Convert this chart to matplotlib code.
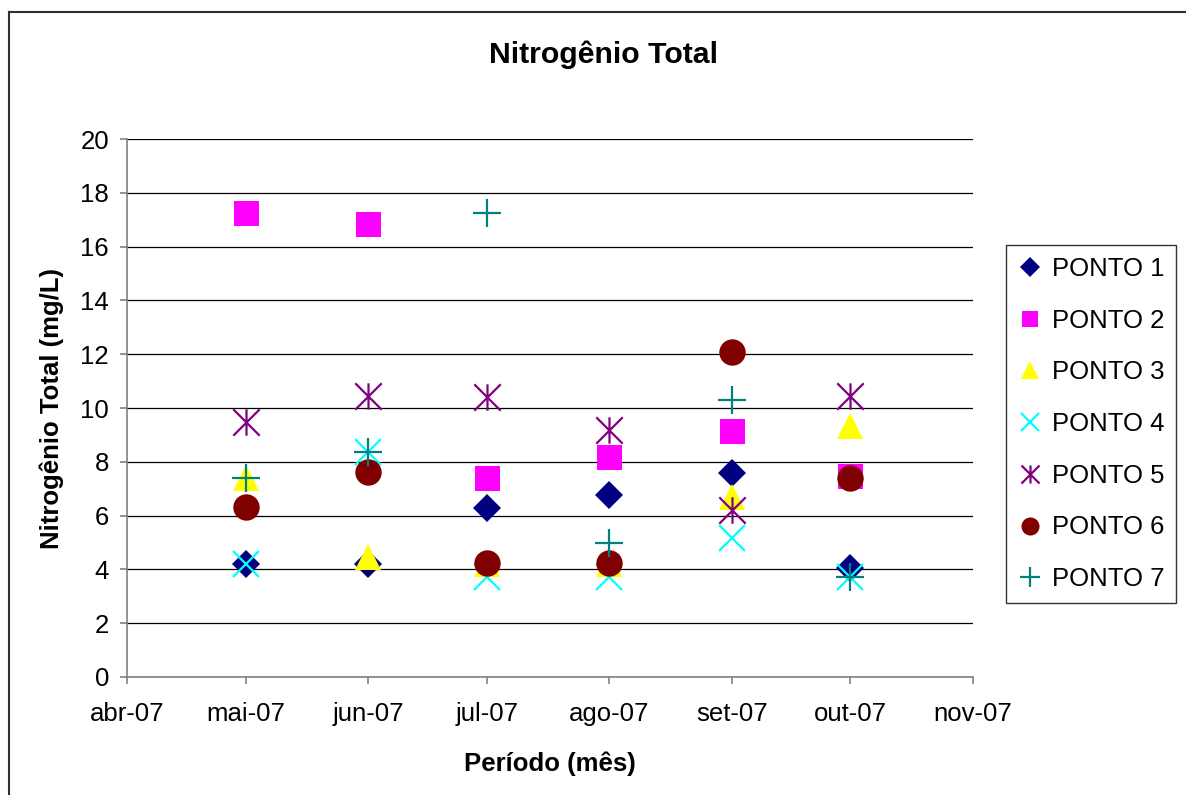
import datetime as dt

import numpy as np
import matplotlib

matplotlib.use("Agg")
import matplotlib.pyplot as plt
from matplotlib.path import Path
from matplotlib.lines import Line2D
from matplotlib.ticker import FixedLocator, FixedFormatter
import matplotlib.dates as mdates

plt.rcParams["font.family"] = ["Liberation Sans", "DejaVu Sans"]

# ── Data: total nitrogen (mg/L) per sampling point, May–Oct 2007 ──
months = [dt.date(2007, m, 1) for m in range(5, 11)]
ponto1 = [4.2, 4.2, 6.27, 6.77, 7.6, 4.05]
ponto2 = [17.25, 16.85, 7.41, 8.19, 9.16, 7.48]
ponto3 = [7.4, 4.45, 4.2, 4.2, 6.69, 9.33]
ponto4 = [4.2, 8.38, 3.7, 3.7, 5.16, 3.7]
ponto5 = [9.47, 10.46, 10.42, 9.18, 6.21, 10.45]
ponto6 = [6.31, 7.63, 4.25, 4.23, 12.07, 7.41]
ponto7 = [7.39, 8.35, 17.25, 4.97, 10.3, 3.71]

tick_dates = [dt.date(2007, m, 1) for m in range(4, 12)]
tick_labels = ["abr-07", "mai-07", "jun-07", "jul-07",
               "ago-07", "set-07", "out-07", "nov-07"]
series_names = [f"PONTO {i}" for i in range(1, 8)]

# Excel-style "star": an X with a vertical bar through it
STAR = Path(
    [(-1, -1), (1, 1), (-1, 1), (1, -1), (0, -1), (0, 1)],
    [Path.MOVETO, Path.LINETO, Path.MOVETO, Path.LINETO, Path.MOVETO, Path.LINETO],
)

# (values, marker, colour, plot size, legend size, filled)
STYLES = [
    (ponto1, "D", "#000080", 14, 10, True),
    (ponto2, "s", "#FF00FF", 18, 12, True),
    (ponto3, "^", "#FFFF00", 19, 13, True),
    (ponto4, "x", "#00FFFF", 19, 13, False),
    (ponto5, STAR, "#800080", 19, 13, False),
    (ponto6, "o", "#800000", 19, 13, True),
    (ponto7, "+", "#008080", 20, 14, False),
]

FS = 18.5
W, H = 1186, 795
fig = plt.figure(figsize=(W / 100, H / 100), dpi=100, facecolor="white")
ax = fig.add_axes([127 / W, 1 - 677 / H, (973 - 127) / W, (677 - 139) / H])

x = mdates.date2num(months)
handles = []
for (vals, mk, col, ms, lms, filled), name in zip(STYLES, series_names):
    kw = dict(marker=mk, linestyle="none", color=col, markeredgecolor=col)
    if filled:
        kw.update(markerfacecolor=col, markeredgewidth=0)
    else:
        kw.update(markerfacecolor="none", markeredgewidth=1.6)
    ax.plot(x, vals, markersize=ms, zorder=3, **kw)
    handles.append(Line2D([], [], markersize=lms, label=name, **kw))

ax.set_xlim(mdates.date2num(tick_dates[0]), mdates.date2num(tick_dates[-1]))
ax.set_ylim(0, 20)
ax.xaxis.set_major_locator(FixedLocator(mdates.date2num(tick_dates)))
ax.xaxis.set_major_formatter(FixedFormatter(tick_labels))
ax.yaxis.set_major_locator(FixedLocator(np.arange(0, 21, 2)))

ax.grid(axis="y", color="#000000", linewidth=0.9, zorder=1)
ax.set_axisbelow(True)
for side in ("top", "right"):
    ax.spines[side].set_visible(False)
for side in ("left", "bottom"):
    ax.spines[side].set_color("#808080")
    ax.spines[side].set_linewidth(1.2)
ax.tick_params(axis="both", direction="out", length=5, width=1.2,
               color="#808080", labelsize=FS)
ax.tick_params(axis="x", pad=13)
ax.tick_params(axis="y", pad=8)

ax.set_xlabel("Período (mês)", fontsize=FS, fontweight="bold", labelpad=18)
ax.set_ylabel("Nitrogênio Total (mg/L)", fontsize=FS, fontweight="bold",
              labelpad=12)
fig.text(604 / W, 1 - 55 / H, "Nitrogênio Total", fontsize=21.8,
         fontweight="bold", ha="center", va="center")

leg = fig.legend(handles=handles, loc="center left",
                 bbox_to_anchor=(1006 / W, 1 - 424 / H), fontsize=FS,
                 frameon=True, fancybox=False, edgecolor="black",
                 labelspacing=1.08, handlelength=1.0, handletextpad=0.35,
                 borderpad=0.45, borderaxespad=0)
leg.get_frame().set_linewidth(1.0)

# Outer chart border (left and top edges)
fig.add_artist(Line2D([9 / W, 9 / W], [0, 1 - 12 / H], color="#303030",
                      linewidth=1.5, transform=fig.transFigure))
fig.add_artist(Line2D([9 / W, 1], [1 - 12 / H, 1 - 12 / H], color="#303030",
                      linewidth=1.5, transform=fig.transFigure))

fig.savefig("out.png", dpi=100)
